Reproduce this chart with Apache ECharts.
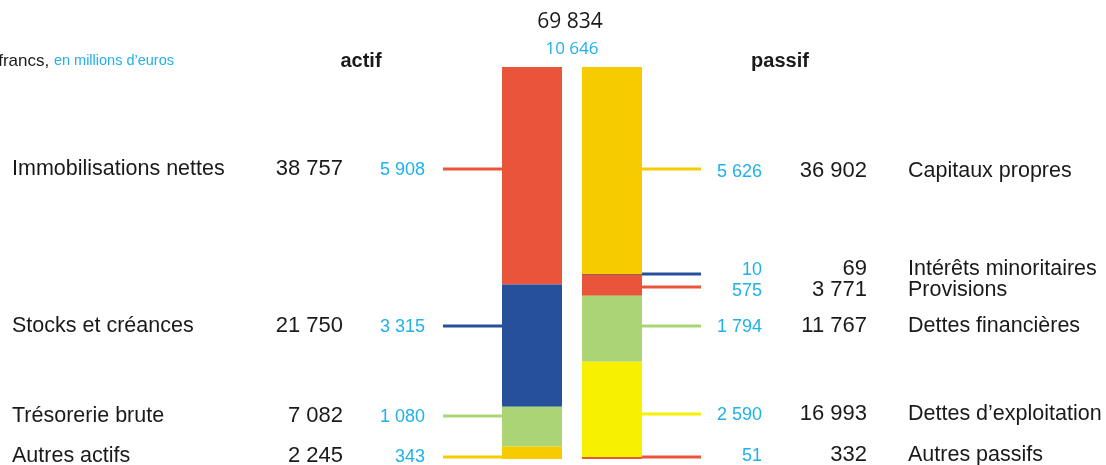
<!DOCTYPE html>
<html>
<head>
<meta charset="utf-8">
<script src="https://cdn.jsdelivr.net/npm/echarts@6/dist/echarts.min.js"></script>
<style>
  html, body { margin: 0; padding: 0; background: #fff; }
  #chart { width: 1106px; height: 465px; }
</style>
</head>
<body>
<div id="chart"></div>
<script>
// bilan, en millions de francs / en millions d'euros
const sides = ['actif', 'passif']
const actifNames = ['Immobilisations nettes', 'Stocks et créances', 'Trésorerie brute', 'Autres actifs']
const actifFrancs = [38757, 21750, 7082, 2245]
const actifEuros = [5908, 3315, 1080, 343]
const passifNames = ['Capitaux propres', 'Intérêts minoritaires', 'Provisions', 'Dettes financières', 'Dettes d’exploitation', 'Autres passifs']
const passifFrancs = [36902, 69, 3771, 11767, 16993, 332]
const passifEuros = [5626, 10, 575, 1794, 2590, 51]
const totalFrancs = 69834
const totalEuros = 10646

const ORANGE = '#e8553a'
const BLUE = '#26509b'
const GREEN = '#abd574'
const GOLD = '#f6cc00'
const YELLOW = '#f7f000'
const CYAN = '#1fb1e9'
const INK = '#1a1a1a'

const actifColors = [ORANGE, BLUE, GREEN, GOLD]
const passifColors = [GOLD, BLUE, ORANGE, GREEN, YELLOW, ORANGE]

// label rows (pixel layout)
const leftTextY = [169, 326, 416, 456]
const leftLineY = [169, 326, 416, 457]
const rightTextY = [171, 269, 290, 326, 414, 455]
const rightLineY = [169, 274, 287, 326, 414, 457]
const rightLineFromBar = [false, true, false, false, false, true]

const fmt = n => String(n).replace(/\B(?=(\d{3})+(?!\d))/g, ' ')
const FONT = '"Liberation Sans", Arial, sans-serif'

const series = []
actifFrancs.forEach((v, i) => {
  series.push({
    type: 'bar', name: actifNames[i], stack: 'bilan', barWidth: 60,
    itemStyle: { color: actifColors[i] },
    data: [v, '-'],
  })
})
passifFrancs.forEach((v, i) => {
  series.push({
    type: 'bar', name: passifNames[i], stack: 'bilan', barWidth: 60,
    itemStyle: { color: passifColors[i] },
    data: ['-', v],
  })
})

function txt(x, y, text, opts) {
  return {
    type: 'text', x, y, silent: true,
    style: Object.assign({
      text, fill: INK, font: '21.5px ' + FONT, verticalAlign: 'middle', align: 'left',
    }, opts || {}),
  }
}
function line(x1, x2, y, color) {
  return {
    type: 'line', silent: true,
    shape: { x1, y1: y, x2, y2: y },
    style: { stroke: color, lineWidth: 3 },
  }
}

const NUM = '22px ' + FONT
const graphics = []
// header
graphics.push({
  type: 'text', x: 174, y: 61, silent: true,
  style: {
    text: '{a|en millions de francs, }{b|en millions d’euros}',
    align: 'right', verticalAlign: 'middle',
    rich: {
      a: { fill: INK, font: '17px ' + FONT },
      b: { fill: CYAN, font: '14.5px ' + FONT },
    },
  },
})
graphics.push(txt(361, 61, sides[0], { font: 'bold 20px ' + FONT, align: 'center' }))
graphics.push(txt(780, 61, sides[1], { font: 'bold 20px ' + FONT, align: 'center' }))
graphics.push(txt(570, 22, fmt(totalFrancs), { font: '21px "Open Sans", sans-serif', align: 'center' }))
graphics.push(txt(572, 49, fmt(totalEuros), { font: '17px "Open Sans", sans-serif', align: 'center', fill: CYAN }))

actifNames.forEach((name, i) => {
  graphics.push(txt(12, leftTextY[i], name))
  graphics.push(txt(343, leftTextY[i], fmt(actifFrancs[i]), { align: 'right', font: NUM }))
  graphics.push(txt(425, leftTextY[i] + 1, fmt(actifEuros[i]), { align: 'right', fill: CYAN, font: '18px ' + FONT }))
  graphics.push(line(443, 502, leftLineY[i], actifColors[i]))
})
passifNames.forEach((name, i) => {
  graphics.push(txt(908, rightTextY[i], name))
  graphics.push(txt(867, rightTextY[i], fmt(passifFrancs[i]), { align: 'right', font: NUM }))
  graphics.push(txt(762, rightTextY[i] + 1, fmt(passifEuros[i]), { align: 'right', fill: CYAN, font: '18px ' + FONT }))
  graphics.push(line(rightLineFromBar[i] ? 582 : 642, 701, rightLineY[i], passifColors[i]))
})

const chart = echarts.init(document.getElementById('chart'))
chart.setOption({
  animation: false,
  grid: { left: 492, right: 454, top: 67, bottom: 6 },
  xAxis: {
    type: 'category', data: sides,
    show: false,
  },
  yAxis: {
    type: 'value', min: 0, max: totalFrancs, inverse: true,
    show: false,
  },
  series,
  graphic: graphics,
})
</script>
</body>
</html>
